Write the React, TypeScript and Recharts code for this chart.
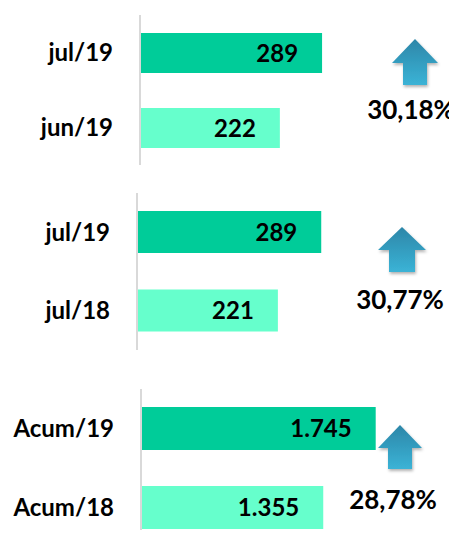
import React from "react";
import { BarChart, Bar, XAxis, YAxis, Cell, LabelList } from "recharts";

const mesCategorias = ["jul/19", "jun/19"];
const mesValores = [289, 222];

const anoCategorias = ["jul/19", "jul/18"];
const anoValores = [289, 221];

const acumCategorias = ["Acum/19", "Acum/18"];
const acumValores = [1745, 1355];

const variacoes = [30.18, 30.77, 28.78];

const COLORS = ["#00CC99", "#66FFCC"];
const FONT = "Lato, 'Open Sans', sans-serif";

const fmtNum = (v: number) => String(v).replace(/\B(?=(\d{3})+(?!\d))/g, ".");
const fmtPct = (v: number) => v.toFixed(2).replace(".", ",") + "%";

const toRows = (cats: string[], vals: number[]) =>
	cats.map((name, i) => ({ name, value: vals[i] }));

type PanelProps = {
	cats: string[];
	vals: number[];
	top: number;
	height: number;
	axisX: number;
	plotW: number;
	max: number;
	barSize: number;
};

const Panel: React.FC<PanelProps> = ({ cats, vals, top, height, axisX, plotW, max, barSize }) => {
	const data = toRows(cats, vals);
	return (
		<div style={{ position: "absolute", left: 0, top }}>
			<BarChart
				width={457}
				height={height}
				data={data}
				layout="vertical"
				margin={{ top: 15, bottom: 15, left: 0, right: 457 - axisX - plotW }}
			>
				<XAxis type="number" hide domain={[0, max]} />
				<YAxis
					type="category"
					dataKey="name"
					width={axisX}
					tickLine={false}
					tickSize={0}
					tickMargin={27}
					axisLine={{ stroke: "#d9d9d9", strokeWidth: 2 }}
					tick={{ fill: "#000", fontSize: 24, fontWeight: 700, fontFamily: FONT }}
				/>
				<Bar dataKey="value" barSize={barSize} isAnimationActive={false}>
					{data.map((_, i) => (
						<Cell key={`c-${i}`} fill={COLORS[i % COLORS.length]} />
					))}
					<LabelList
						dataKey="value"
						position="insideRight"
						offset={24}
						formatter={(v: any) => fmtNum(Number(v))}
						style={{ fill: "#000", fontSize: 24, fontWeight: 700, fontFamily: FONT }}
					/>
				</Bar>
			</BarChart>
		</div>
	);
};

// arrow geometry: center x, top, head base, head half-width, shaft half-width, bottom, text baseline, text x
const arrows = [
	{ cx: 415, top: 39, base: 63, hw: 23, sw: 12, bottom: 85, ty: 119, tx: 411 },
	{ cx: 402, top: 227, base: 250, hw: 24, sw: 13, bottom: 272, ty: 309, tx: 400 },
	{ cx: 400, top: 425, base: 448, hw: 22, sw: 12, bottom: 469, ty: 509, tx: 393 },
];

export default function App() {
	return (
		<div style={{ position: "relative", width: 457, height: 538, margin: -8, overflow: "hidden", background: "#fff" }}>
			<Panel cats={mesCategorias} vals={mesValores} top={0} height={180} axisX={140} plotW={252} max={400} barSize={40} />
			<Panel cats={anoCategorias} vals={anoValores} top={178} height={187} axisX={137} plotW={255} max={400} barSize={42} />
			<Panel cats={acumCategorias} vals={acumValores} top={374} height={188} axisX={141} plotW={269} max={2000} barSize={43} />
			<svg width={457} height={538} style={{ position: "absolute", left: 0, top: 0, pointerEvents: "none" }}>
				<defs>
					<linearGradient id="arrowGrad" x1="0" y1="0" x2="0" y2="1">
						<stop offset="0%" stopColor="#2C86A8" />
						<stop offset="100%" stopColor="#3BB3D6" />
					</linearGradient>
					<filter id="shadow" x="-30%" y="-30%" width="160%" height="160%">
						<feDropShadow dx="1" dy="2" stdDeviation="1.5" floodColor="#000" floodOpacity="0.3" />
					</filter>
				</defs>
				{arrows.map((a, i) => (
					<g key={i}>
						<path
							d={`M${a.cx},${a.top} L${a.cx + a.hw},${a.base} L${a.cx + a.sw},${a.base} L${a.cx + a.sw},${a.bottom} L${a.cx - a.sw},${a.bottom} L${a.cx - a.sw},${a.base} L${a.cx - a.hw},${a.base} Z`}
							fill="url(#arrowGrad)"
							filter="url(#shadow)"
						/>
						<text
							x={a.tx}
							y={a.ty}
							textAnchor="middle"
							fontFamily={FONT}
							fontWeight={700}
							fontSize={26}
							fill="#000"
						>
							{fmtPct(variacoes[i])}
						</text>
					</g>
				))}
			</svg>
		</div>
	);
}
